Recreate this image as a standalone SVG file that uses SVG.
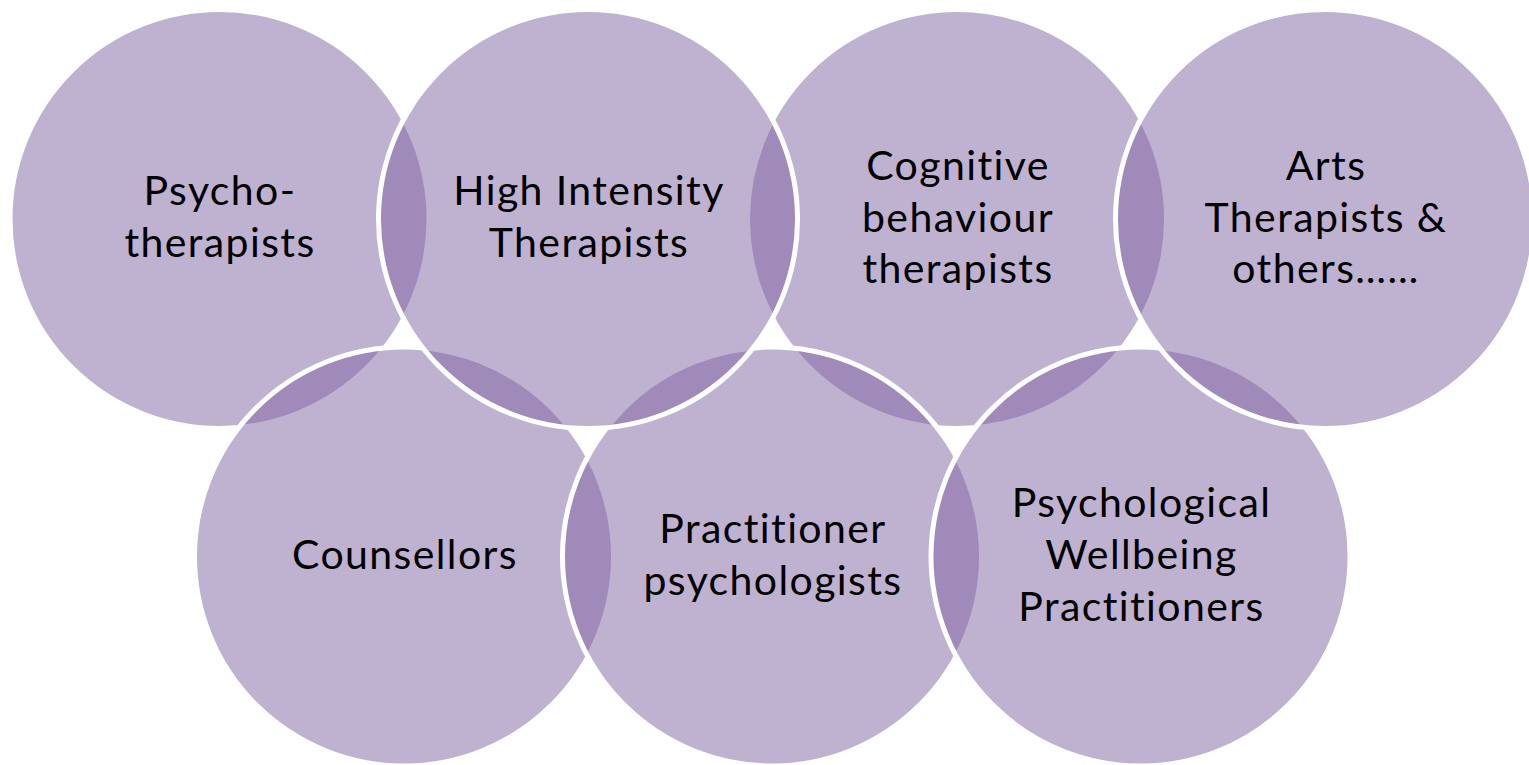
<svg xmlns="http://www.w3.org/2000/svg" width="1529" height="765" viewBox="0 0 1529 765">
<style>
.ring{fill:#8064A2;fill-opacity:0.5;stroke:#FFFFFF;stroke-width:5}
.lbl{font-family:Lato,"Open Sans","Liberation Sans",sans-serif;font-size:41px;letter-spacing:1.4px;font-variant-ligatures:none;font-feature-settings:"liga" 0,"clig" 0;fill:#000000;text-anchor:middle}
</style>
<rect width="1529" height="765" fill="#FFFFFF"/>
<g id="node-psychotherapists">
<circle class="ring" cx="219.5" cy="219" r="209.5"/>
<text class="lbl" x="220" y="205">Psycho-</text>
<text class="lbl" x="220" y="257">therapists</text>
</g>
<g id="node-cbt">
<circle class="ring" cx="957" cy="219" r="209.5"/>
<text class="lbl" x="958" y="180">Cognitive</text>
<text class="lbl" x="958" y="232">behaviour</text>
<text class="lbl" x="958" y="283">therapists</text>
</g>
<g id="node-counsellors">
<circle class="ring" cx="404" cy="556.5" r="209.5"/>
<text class="lbl" x="405" y="569">Counsellors</text>
</g>
<g id="node-practitioner-psychologists">
<circle class="ring" cx="772" cy="556.5" r="209.5"/>
<text class="lbl" x="773" y="543">Practitioner</text>
<text class="lbl" x="773" y="595">psychologists</text>
</g>
<g id="node-high-intensity">
<circle class="ring" cx="588" cy="219" r="209.5"/>
<text class="lbl" x="589" y="205">High Intensity</text>
<text class="lbl" x="589" y="257">Therapists</text>
</g>
<g id="node-pwp">
<circle class="ring" cx="1140.5" cy="556.5" r="209.5"/>
<text class="lbl" x="1141.5" y="517">Psychological</text>
<text class="lbl" x="1141.5" y="569">Wellbeing</text>
<text class="lbl" x="1141.5" y="621">Practitioners</text>
</g>
<g id="node-arts">
<circle class="ring" cx="1325" cy="219" r="209.5"/>
<text class="lbl" x="1326" y="180">Arts</text>
<text class="lbl" x="1326" y="232">Therapists &amp;</text>
<text class="lbl" x="1326" y="283">others……</text>
</g>
</svg>
